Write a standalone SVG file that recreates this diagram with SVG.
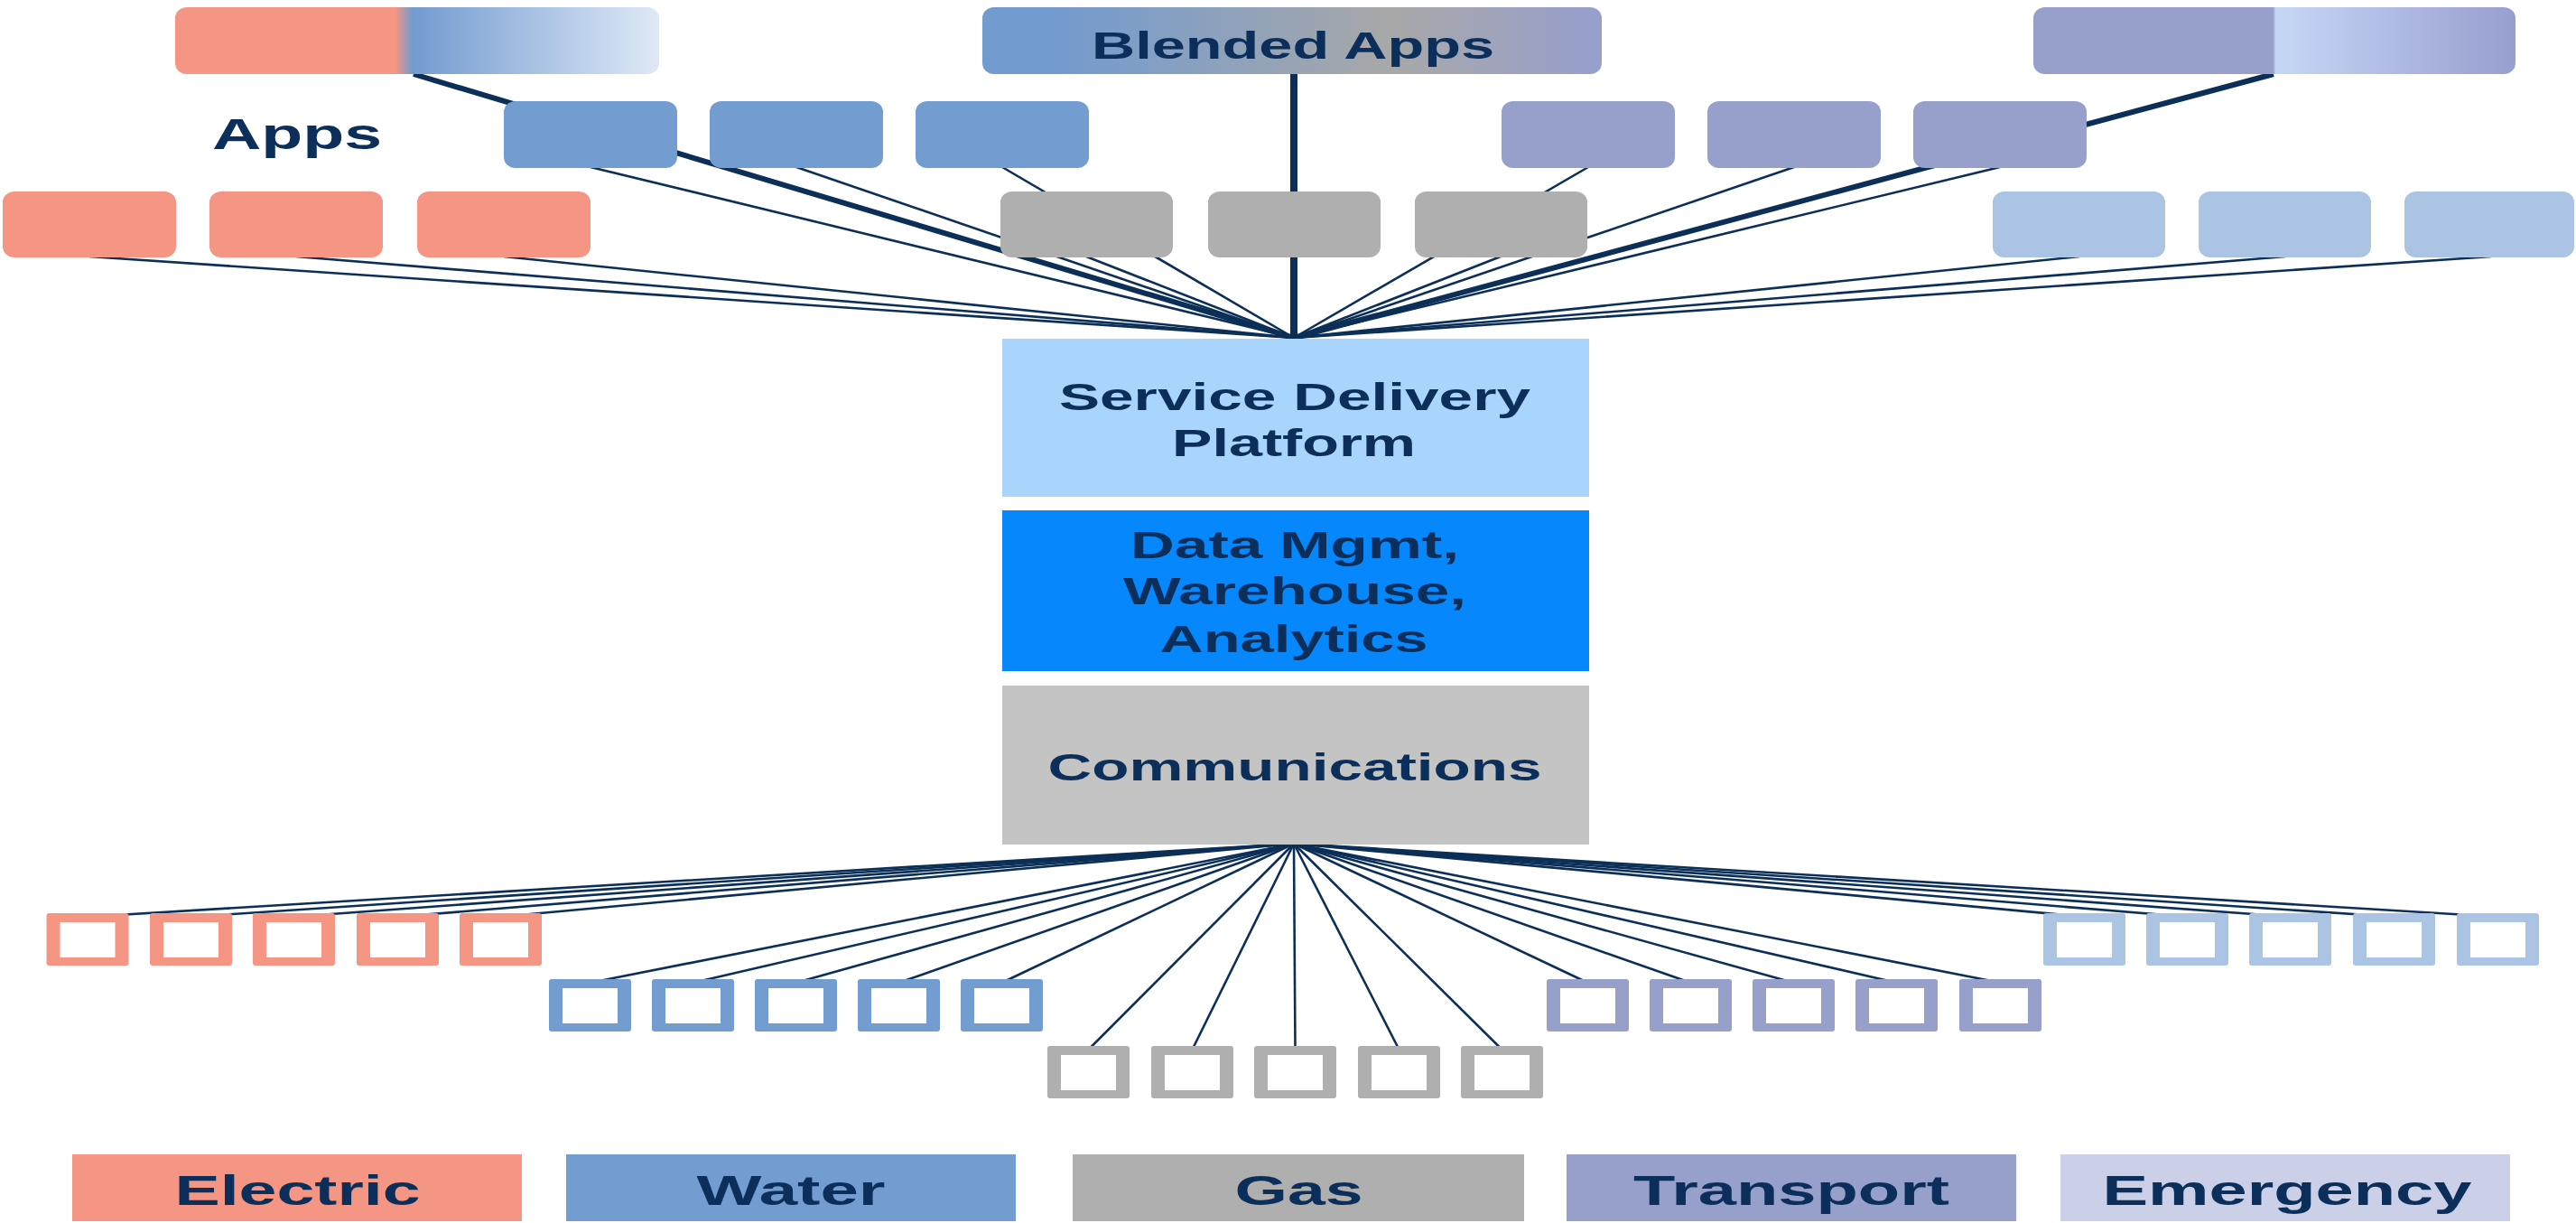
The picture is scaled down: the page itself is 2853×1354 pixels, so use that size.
<svg xmlns="http://www.w3.org/2000/svg" xmlns:xlink="http://www.w3.org/1999/xlink" width="2853" height="1354" viewBox="0 0 2853 1354">
  <defs>
    <style>
      .txt { font-family: "Liberation Sans", Arial, sans-serif; font-weight: bold; fill: #0b2e5a; text-anchor: middle; }
      .lyr { font-size: 42px; }
      .leg { font-size: 47px; }
      .thin { stroke: #0c2f58; stroke-width: 2.6; fill: none; }
      .thick { stroke: #0c2f58; stroke-width: 6; fill: none; }
      .vert { stroke: #0c2f58; stroke-width: 8; fill: none; }
      .el { fill: #f59584; }
      .wa { fill: #739cd0; }
      .ga { fill: #afafaf; }
      .tr { fill: #979fcb; }
      .em { fill: #abc4e4; }
      .emleg { fill: #cbcfe8; }
    </style>
    <linearGradient id="gElecWater" x1="0" y1="0" x2="1" y2="0">
      <stop offset="0" stop-color="#f59584"/>
      <stop offset="0.455" stop-color="#f59584"/>
      <stop offset="0.49" stop-color="#729bd0"/>
      <stop offset="1" stop-color="#dfe9f7"/>
    </linearGradient>
    <linearGradient id="gBlend" x1="0" y1="0" x2="1" y2="0">
      <stop offset="0" stop-color="#729bd0"/>
      <stop offset="0.12" stop-color="#739bcf"/>
      <stop offset="0.66" stop-color="#a8a8a8"/>
      <stop offset="1" stop-color="#979fce"/>
    </linearGradient>
    <linearGradient id="gTransEm" x1="0" y1="0" x2="1" y2="0">
      <stop offset="0" stop-color="#979fcb"/>
      <stop offset="0.497" stop-color="#979fcb"/>
      <stop offset="0.503" stop-color="#c6d7f5"/>
      <stop offset="0.8" stop-color="#abb5e0"/>
      <stop offset="1" stop-color="#979fce"/>
    </linearGradient>
    <!-- outlined device square: wide side walls, thin top/bottom -->
    <path id="sq" fill-rule="evenodd" d="M3,0 H88 Q91,0 91,3 V55 Q91,58 88,58 H3 Q0,58 0,55 V3 Q0,0 3,0 Z M15,10 V49 H76 V10 Z"/>
  </defs>

  <rect x="0" y="0" width="2853" height="1354" fill="#ffffff"/>

  <!-- connectors: app fan-in above, device fan-out below -->
  <g id="connectors">
    <!-- thick blended-app links -->
    <line class="thick" x1="458" y1="82" x2="1433" y2="374"/>
    <line class="vert" x1="1433" y1="82" x2="1433" y2="376"/>
    <line class="thick" x1="2518" y1="82" x2="1433" y2="374"/>
    <!-- single-domain apps -->
    <line class="thin" x1="654" y1="185" x2="1433" y2="374"/>
    <line class="thin" x1="882" y1="185" x2="1433" y2="374"/>
    <line class="thin" x1="1110" y1="185" x2="1433" y2="374"/>
    <line class="thin" x1="1759" y1="185" x2="1433" y2="374"/>
    <line class="thin" x1="1987" y1="185" x2="1433" y2="374"/>
    <line class="thin" x1="2215" y1="185" x2="1433" y2="374"/>
    <line class="thin" x1="99" y1="284" x2="1433" y2="374"/>
    <line class="thin" x1="328" y1="284" x2="1433" y2="374"/>
    <line class="thin" x1="558" y1="284" x2="1433" y2="374"/>
    <line class="thin" x1="1203" y1="284" x2="1433" y2="374"/>
    <line class="thin" x1="1662" y1="284" x2="1433" y2="374"/>
    <line class="thin" x1="2303" y1="284" x2="1433" y2="374"/>
    <line class="thin" x1="2531" y1="284" x2="1433" y2="374"/>
    <line class="thin" x1="2759" y1="284" x2="1433" y2="374"/>
    <!-- devices -->
    <line class="thin" x1="1433" y1="934" x2="97" y2="1015"/>
    <line class="thin" x1="1433" y1="934" x2="211.5" y2="1015"/>
    <line class="thin" x1="1433" y1="934" x2="325.5" y2="1015"/>
    <line class="thin" x1="1433" y1="934" x2="440.5" y2="1015"/>
    <line class="thin" x1="1433" y1="934" x2="554.5" y2="1015"/>
    <line class="thin" x1="1433" y1="934" x2="653.5" y2="1088"/>
    <line class="thin" x1="1433" y1="934" x2="767.5" y2="1088"/>
    <line class="thin" x1="1433" y1="934" x2="881.5" y2="1088"/>
    <line class="thin" x1="1433" y1="934" x2="995.5" y2="1088"/>
    <line class="thin" x1="1433" y1="934" x2="1109.5" y2="1088"/>
    <line class="thin" x1="1433" y1="934" x2="1205.5" y2="1162"/>
    <line class="thin" x1="1433" y1="934" x2="1320.5" y2="1162"/>
    <line class="thin" x1="1433" y1="934" x2="1434.5" y2="1162"/>
    <line class="thin" x1="1433" y1="934" x2="1549.5" y2="1162"/>
    <line class="thin" x1="1433" y1="934" x2="1663.5" y2="1162"/>
    <line class="thin" x1="1433" y1="934" x2="1758.5" y2="1088"/>
    <line class="thin" x1="1433" y1="934" x2="1872.5" y2="1088"/>
    <line class="thin" x1="1433" y1="934" x2="1986.5" y2="1088"/>
    <line class="thin" x1="1433" y1="934" x2="2100.5" y2="1088"/>
    <line class="thin" x1="1433" y1="934" x2="2215.5" y2="1088"/>
    <line class="thin" x1="1433" y1="934" x2="2308.5" y2="1015"/>
    <line class="thin" x1="1433" y1="934" x2="2422.5" y2="1015"/>
    <line class="thin" x1="1433" y1="934" x2="2536.5" y2="1015"/>
    <line class="thin" x1="1433" y1="934" x2="2651.5" y2="1015"/>
    <line class="thin" x1="1433" y1="934" x2="2766.5" y2="1015"/>
  </g>

  <!-- blended applications -->
  <g id="blend-electric-water">
    <rect x="194" y="8" width="536" height="74" rx="13" ry="12" fill="url(#gElecWater)"/>
  </g>
  <g id="blended-apps">
    <rect x="1088" y="8" width="686" height="74" rx="13" ry="12" fill="url(#gBlend)"/>
    <text class="txt" x="1432" y="65" font-size="43" textLength="446" lengthAdjust="spacingAndGlyphs">Blended Apps</text>
  </g>
  <g id="blend-transport-emergency">
    <rect x="2252" y="8" width="534" height="74" rx="13" ry="12" fill="url(#gTransEm)"/>
  </g>

  <g id="apps-label">
    <text class="txt" x="329" y="165" font-size="48" textLength="188" lengthAdjust="spacingAndGlyphs">Apps</text>
  </g>

  <!-- single-domain applications -->
  <g id="apps-water">
    <rect class="wa" x="558" y="112" width="192" height="74" rx="13" ry="12"/>
    <rect class="wa" x="786" y="112" width="192" height="74" rx="13" ry="12"/>
    <rect class="wa" x="1014" y="112" width="192" height="74" rx="13" ry="12"/>
  </g>
  <g id="apps-transport">
    <rect class="tr" x="1663" y="112" width="192" height="74" rx="13" ry="12"/>
    <rect class="tr" x="1891" y="112" width="192" height="74" rx="13" ry="12"/>
    <rect class="tr" x="2119" y="112" width="192" height="74" rx="13" ry="12"/>
  </g>
  <g id="apps-electric">
    <rect class="el" x="3" y="212" width="192" height="73" rx="13" ry="12"/>
    <rect class="el" x="232" y="212" width="192" height="73" rx="13" ry="12"/>
    <rect class="el" x="462" y="212" width="192" height="73" rx="13" ry="12"/>
  </g>
  <g id="apps-gas">
    <rect class="ga" x="1108" y="212" width="191" height="73" rx="13" ry="12"/>
    <rect class="ga" x="1338" y="212" width="191" height="73" rx="13" ry="12"/>
    <rect class="ga" x="1567" y="212" width="191" height="73" rx="13" ry="12"/>
  </g>
  <g id="apps-emergency">
    <rect class="em" x="2207" y="212" width="191" height="73" rx="13" ry="12"/>
    <rect class="em" x="2435" y="212" width="191" height="73" rx="13" ry="12"/>
    <rect class="em" x="2663" y="212" width="188" height="73" rx="13" ry="12"/>
  </g>

  <!-- platform stack -->
  <g id="service-delivery-platform">
    <rect x="1110" y="375" width="650" height="175" fill="#a9d4fc"/>
    <text class="txt lyr" x="1434" y="454" textLength="522" lengthAdjust="spacingAndGlyphs">Service Delivery</text>
    <text class="txt lyr" x="1433" y="505" textLength="270" lengthAdjust="spacingAndGlyphs">Platform</text>
  </g>
  <g id="data-management">
    <rect x="1110" y="565" width="650" height="178" fill="#0787fc"/>
    <text class="txt lyr" x="1434" y="618" textLength="364" lengthAdjust="spacingAndGlyphs">Data Mgmt,</text>
    <text class="txt lyr" x="1434" y="669" textLength="380" lengthAdjust="spacingAndGlyphs">Warehouse,</text>
    <text class="txt lyr" x="1433" y="722" textLength="297" lengthAdjust="spacingAndGlyphs">Analytics</text>
  </g>
  <g id="communications">
    <rect x="1110" y="759" width="650" height="176" fill="#c4c4c4"/>
    <text class="txt lyr" x="1434" y="864" textLength="547" lengthAdjust="spacingAndGlyphs">Communications</text>
  </g>

  <!-- field devices -->
  <g id="devices-electric" class="el">
    <use xlink:href="#sq" x="51.5" y="1011"/>
    <use xlink:href="#sq" x="166" y="1011"/>
    <use xlink:href="#sq" x="280" y="1011"/>
    <use xlink:href="#sq" x="395" y="1011"/>
    <use xlink:href="#sq" x="509" y="1011"/>
  </g>
  <g id="devices-water" class="wa">
    <use xlink:href="#sq" x="608" y="1084"/>
    <use xlink:href="#sq" x="722" y="1084"/>
    <use xlink:href="#sq" x="836" y="1084"/>
    <use xlink:href="#sq" x="950" y="1084"/>
    <use xlink:href="#sq" x="1064" y="1084"/>
  </g>
  <g id="devices-gas" class="ga">
    <use xlink:href="#sq" x="1160" y="1158"/>
    <use xlink:href="#sq" x="1275" y="1158"/>
    <use xlink:href="#sq" x="1389" y="1158"/>
    <use xlink:href="#sq" x="1504" y="1158"/>
    <use xlink:href="#sq" x="1618" y="1158"/>
  </g>
  <g id="devices-transport" class="tr">
    <use xlink:href="#sq" x="1713" y="1084"/>
    <use xlink:href="#sq" x="1827" y="1084"/>
    <use xlink:href="#sq" x="1941" y="1084"/>
    <use xlink:href="#sq" x="2055" y="1084"/>
    <use xlink:href="#sq" x="2170" y="1084"/>
  </g>
  <g id="devices-emergency" class="em">
    <use xlink:href="#sq" x="2263" y="1011"/>
    <use xlink:href="#sq" x="2377" y="1011"/>
    <use xlink:href="#sq" x="2491" y="1011"/>
    <use xlink:href="#sq" x="2606" y="1011"/>
    <use xlink:href="#sq" x="2721" y="1011"/>
  </g>

  <!-- legend -->
  <g id="legend-electric">
    <rect class="el" x="80" y="1278" width="498" height="74"/>
    <text class="txt leg" x="329.5" y="1334" textLength="272" lengthAdjust="spacingAndGlyphs">Electric</text>
  </g>
  <g id="legend-water">
    <rect class="wa" x="627" y="1278" width="498" height="74"/>
    <text class="txt leg" x="876" y="1334" textLength="209" lengthAdjust="spacingAndGlyphs">Water</text>
  </g>
  <g id="legend-gas">
    <rect class="ga" x="1188" y="1278" width="500" height="74"/>
    <text class="txt leg" x="1438.5" y="1334" textLength="142" lengthAdjust="spacingAndGlyphs">Gas</text>
  </g>
  <g id="legend-transport">
    <rect class="tr" x="1735" y="1278" width="498" height="74"/>
    <text class="txt leg" x="1984" y="1334" textLength="350" lengthAdjust="spacingAndGlyphs">Transport</text>
  </g>
  <g id="legend-emergency">
    <rect class="emleg" x="2282" y="1278" width="498" height="74"/>
    <text class="txt leg" x="2533" y="1334" textLength="409" lengthAdjust="spacingAndGlyphs">Emergency</text>
  </g>
</svg>
